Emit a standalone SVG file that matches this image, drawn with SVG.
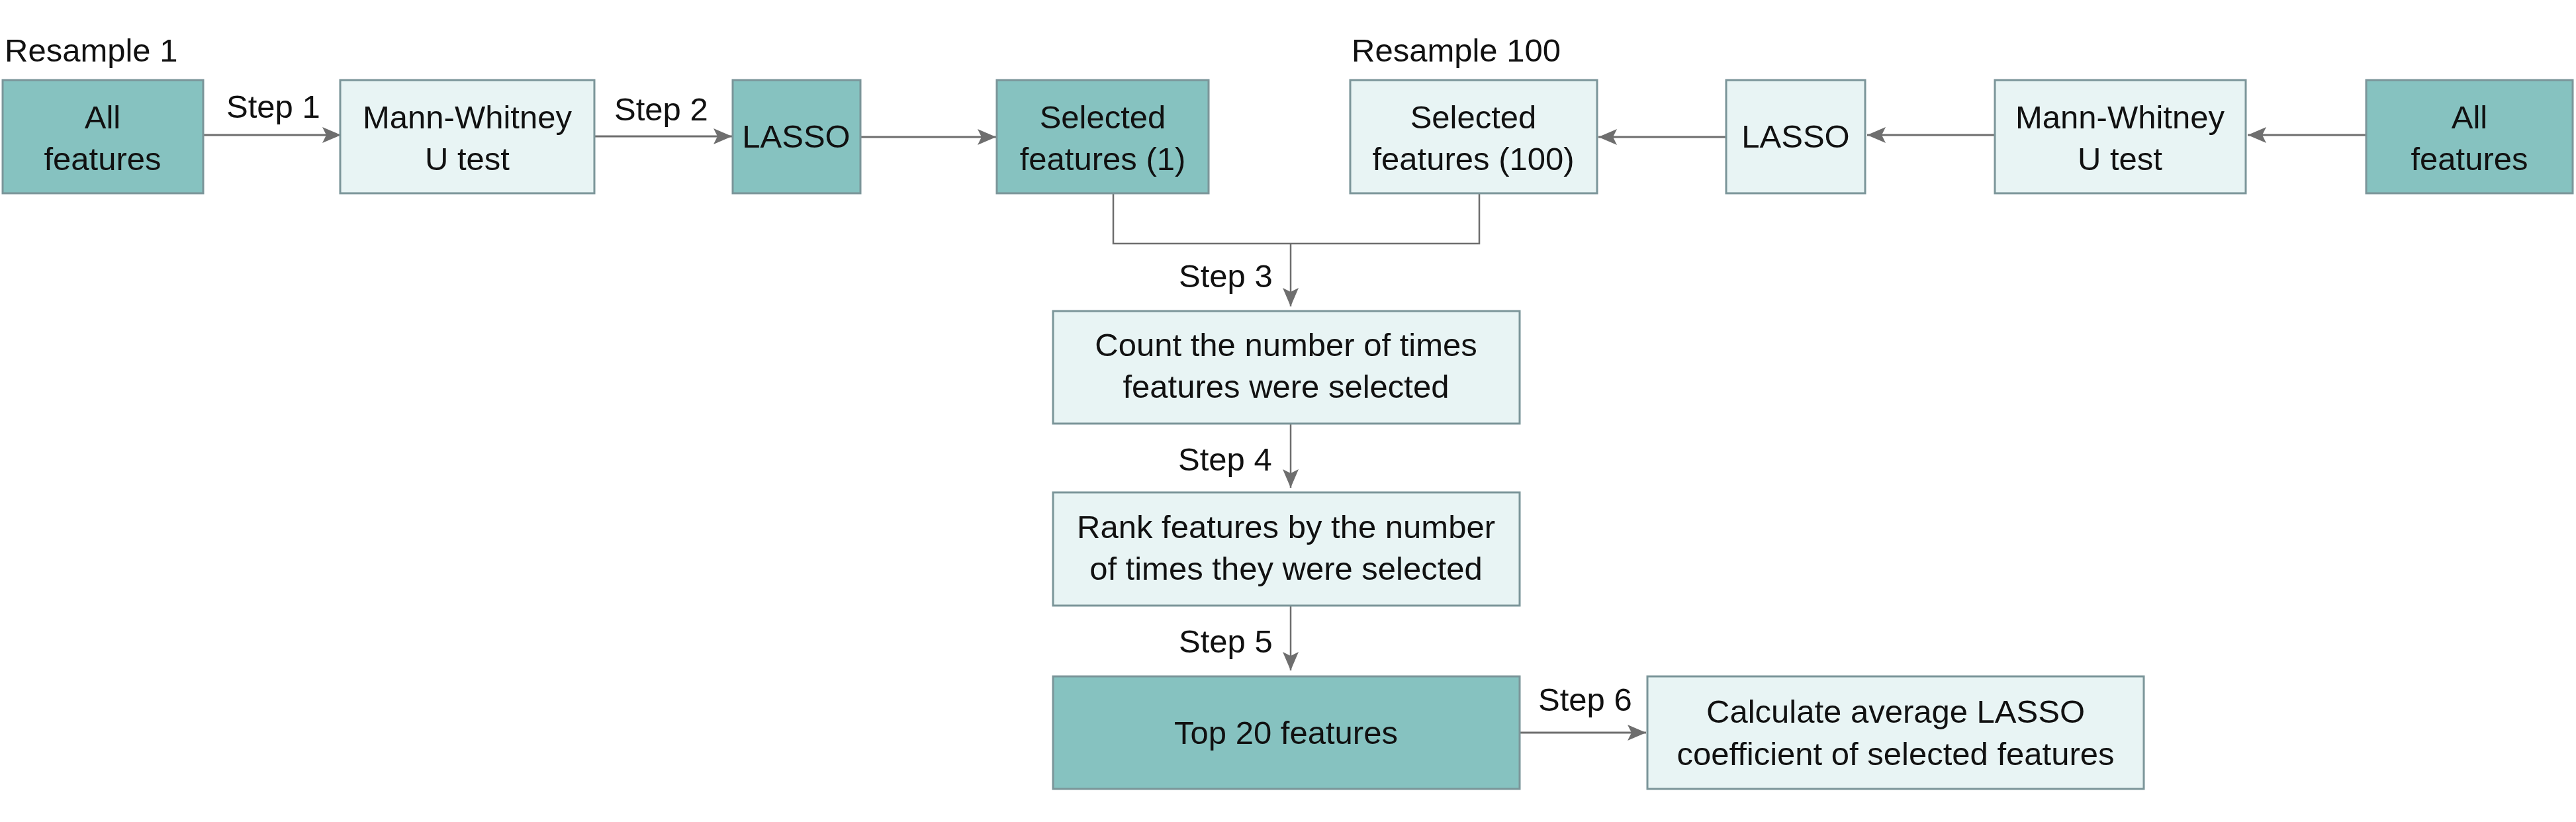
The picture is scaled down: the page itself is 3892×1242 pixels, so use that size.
<svg xmlns="http://www.w3.org/2000/svg" width="3892" height="1242" viewBox="0 0 3892 1242">
<defs>
<style>
.dark{fill:#86c2c0;stroke:#7b9599;stroke-width:3}
.light{fill:#e8f4f4;stroke:#7b9599;stroke-width:3}
.t{font-family:"Liberation Sans",Arial,sans-serif;font-size:49px;fill:#111}
.c{text-anchor:middle}
.ln{fill:none;stroke:#6e6e6e;stroke-width:3}
.lt{fill:none;stroke:#6e6e6e;stroke-width:2.5}
</style>
<marker id="ah" viewBox="0 0 28 24" refX="28" refY="12" markerWidth="28" markerHeight="24" markerUnits="userSpaceOnUse" orient="auto">
<path d="M0,0 L28,12 L0,24 L6,12 Z" fill="#6e6e6e"/>
</marker>
</defs>
<rect width="3892" height="1242" fill="#fff"/>

<g id="labels">
<text class="t" x="7" y="93">Resample 1</text>
<text class="t" x="2042" y="93">Resample 100</text>
<text class="t" x="342" y="178">Step 1</text>
<text class="t" x="928" y="182">Step 2</text>
<text class="t" x="1781" y="434">Step 3</text>
<text class="t" x="1780" y="711">Step 4</text>
<text class="t" x="1781" y="986">Step 5</text>
<text class="t" x="2324" y="1074">Step 6</text>
</g>

<g id="connectors">
<line class="ln" x1="307" y1="204" x2="515" y2="204" marker-end="url(#ah)"/>
<line class="ln" x1="898" y1="206" x2="1106" y2="206" marker-end="url(#ah)"/>
<line class="ln" x1="1300" y1="207" x2="1505" y2="207" marker-end="url(#ah)"/>
<line class="ln" x1="3575" y1="204" x2="3396" y2="204" marker-end="url(#ah)"/>
<line class="ln" x1="3014" y1="204" x2="2821" y2="204" marker-end="url(#ah)"/>
<line class="ln" x1="2608" y1="207" x2="2415" y2="207" marker-end="url(#ah)"/>
<polyline class="lt" points="1682,292 1682,368 2235,368 2235,292"/>
<line class="lt" x1="1950" y1="368" x2="1950" y2="463" marker-end="url(#ah)"/>
<line class="lt" x1="1950" y1="640" x2="1950" y2="737" marker-end="url(#ah)"/>
<line class="lt" x1="1950" y1="915" x2="1950" y2="1013" marker-end="url(#ah)"/>
<line class="ln" x1="2296" y1="1107" x2="2487" y2="1107" marker-end="url(#ah)"/>
</g>

<g id="all-features-1">
<rect class="dark" x="4" y="121" width="303" height="171"/>
<text class="t c" x="155" y="194">All</text>
<text class="t c" x="155" y="257">features</text>
</g>
<g id="mann-whitney-1">
<rect class="light" x="514" y="121" width="384" height="171"/>
<text class="t c" x="706" y="194">Mann-Whitney</text>
<text class="t c" x="706" y="257">U test</text>
</g>
<g id="lasso-1">
<rect class="dark" x="1107" y="121" width="193" height="171"/>
<text class="t c" x="1203" y="223">LASSO</text>
</g>
<g id="selected-1">
<rect class="dark" x="1506" y="121" width="320" height="171"/>
<text class="t c" x="1666" y="194">Selected</text>
<text class="t c" x="1666" y="257">features (1)</text>
</g>
<g id="selected-100">
<rect class="light" x="2040" y="121" width="373" height="171"/>
<text class="t c" x="2226" y="194">Selected</text>
<text class="t c" x="2226" y="257">features (100)</text>
</g>
<g id="lasso-100">
<rect class="light" x="2608" y="121" width="210" height="171"/>
<text class="t c" x="2713" y="223">LASSO</text>
</g>
<g id="mann-whitney-100">
<rect class="light" x="3014" y="121" width="379" height="171"/>
<text class="t c" x="3203" y="194">Mann-Whitney</text>
<text class="t c" x="3203" y="257">U test</text>
</g>
<g id="all-features-100">
<rect class="dark" x="3575" y="121" width="312" height="171"/>
<text class="t c" x="3731" y="194">All</text>
<text class="t c" x="3731" y="257">features</text>
</g>
<g id="count">
<rect class="light" x="1591" y="470" width="705" height="170"/>
<text class="t c" x="1943" y="538">Count the number of times</text>
<text class="t c" x="1943" y="601">features were selected</text>
</g>
<g id="rank">
<rect class="light" x="1591" y="744" width="705" height="171"/>
<text class="t c" x="1943" y="813">Rank features by the number</text>
<text class="t c" x="1943" y="876">of times they were selected</text>
</g>
<g id="top20">
<rect class="dark" x="1591" y="1022" width="705" height="170"/>
<text class="t c" x="1943" y="1124">Top 20 features</text>
</g>
<g id="calculate">
<rect class="light" x="2489" y="1022" width="750" height="170"/>
<text class="t c" x="2864" y="1092">Calculate average LASSO</text>
<text class="t c" x="2864" y="1156">coefficient of selected features</text>
</g>
</svg>
